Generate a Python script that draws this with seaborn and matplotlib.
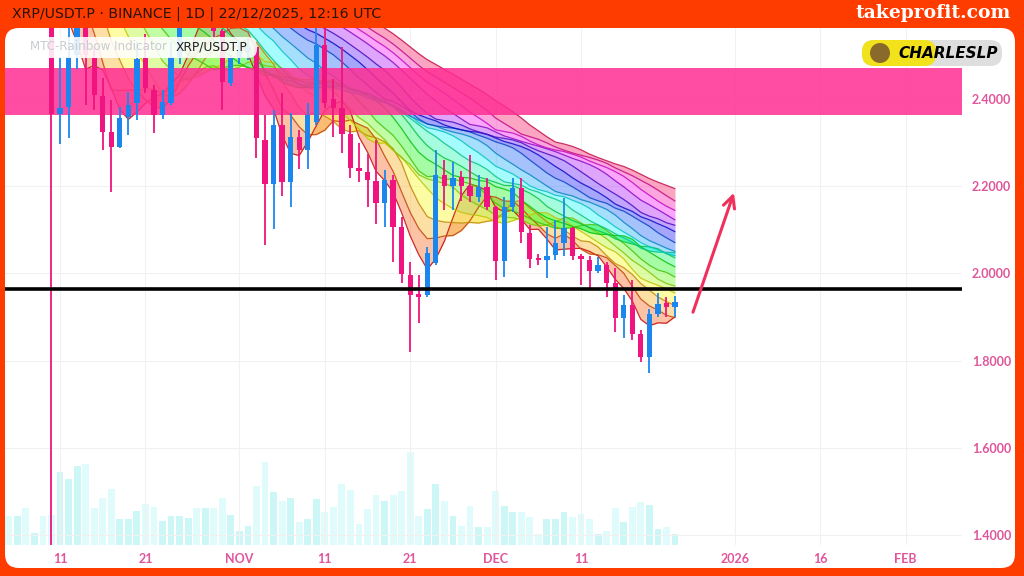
import numpy as np
import pandas as pd
import seaborn as sns
import matplotlib.pyplot as plt
from matplotlib.patches import FancyBboxPatch, Circle

# XRP/USDT.P daily candles, 04/10/2025 .. 22/12/2025
dates = pd.date_range("2025-10-04", "2025-12-22", freq="D")

opens = [2.98, 2.97, 2.96, 3.00, 2.84, 2.86, 2.80, 2.366, 2.382, 2.50,
         2.60, 2.494, 2.408, 2.325, 2.291, 2.359, 2.39, 2.494, 2.42, 2.363,
         2.39, 2.497, 2.60, 2.65, 2.62, 2.64, 2.555, 2.437,
         2.494, 2.51, 2.52, 2.306, 2.205, 2.34, 2.21, 2.313, 2.283, 2.347,
         2.524, 2.40, 2.38, 2.32, 2.242, 2.233, 2.212, 2.161, 2.214, 2.106,
         1.997, 1.953, 1.95, 2.024, 2.226, 2.20, 2.221, 2.20, 2.175, 2.198,
         2.152, 2.028, 2.152, 2.196, 2.093, 2.035, 2.031, 2.042, 2.07, 2.104,
         2.04, 2.031, 2.005, 2.019, 1.978, 1.898, 1.927, 1.861, 1.808, 1.907,
         1.932, 1.923]
highs = [3.00, 3.02, 3.03, 3.02, 2.90, 2.87, 2.84, 2.497, 2.58, 2.66,
         2.62, 2.52, 2.448, 2.398, 2.382, 2.417, 2.53, 2.55, 2.432, 2.42,
         2.53, 2.62, 2.68, 2.70, 2.68, 2.68, 2.56, 2.50,
         2.53, 2.54, 2.53, 2.363, 2.375, 2.414, 2.368, 2.33, 2.39, 2.57,
         2.58, 2.445, 2.52, 2.34, 2.30, 2.275, 2.306, 2.237, 2.225, 2.13,
         2.026, 1.996, 2.06, 2.283, 2.26, 2.255, 2.235, 2.272, 2.225, 2.22,
         2.155, 2.175, 2.218, 2.22, 2.11, 2.045, 2.106, 2.122, 2.173, 2.107,
         2.045, 2.04, 2.038, 2.027, 2.012, 1.95, 1.985, 1.87, 1.918, 1.955,
         1.946, 1.948]
lows = [2.95, 2.93, 2.94, 2.82, 2.80, 2.75, 1.25, 2.297, 2.31, 2.47,
        2.386, 2.375, 2.283, 2.187, 2.288, 2.317, 2.352, 2.414, 2.322, 2.355,
        2.386, 2.48, 2.57, 2.60, 2.58, 2.54, 2.375, 2.43,
        2.48, 2.49, 2.265, 2.065, 2.102, 2.178, 2.152, 2.24, 2.24, 2.34,
        2.38, 2.313, 2.276, 2.22, 2.21, 2.152, 2.113, 2.106, 2.026, 1.978,
        1.82, 1.886, 1.945, 2.02, 2.145, 2.145, 2.165, 2.163, 2.164, 2.145,
        1.985, 1.992, 2.141, 2.07, 2.012, 2.02, 1.99, 2.03, 2.04, 2.031,
        1.973, 1.966, 2.0, 1.946, 1.866, 1.852, 1.847, 1.797, 1.772, 1.90,
        1.90, 1.90]
closes = [2.97, 2.96, 3.00, 2.84, 2.86, 2.80, 2.366, 2.379, 2.497, 2.60,
          2.50, 2.409, 2.325, 2.291, 2.356, 2.386, 2.493, 2.425, 2.363, 2.393,
          2.497, 2.60, 2.65, 2.62, 2.64, 2.555, 2.44, 2.494,
          2.51, 2.52, 2.31, 2.205, 2.34, 2.21, 2.313, 2.283, 2.363, 2.524,
          2.39, 2.38, 2.32, 2.242, 2.235, 2.214, 2.161, 2.214, 2.106, 1.999,
          1.95, 1.946, 2.047, 2.226, 2.20, 2.22, 2.20, 2.178, 2.198, 2.152,
          2.028, 2.152, 2.196, 2.095, 2.033, 2.031, 2.04, 2.07, 2.104, 2.04,
          2.033, 2.005, 2.019, 1.978, 1.898, 1.927, 1.861, 1.808, 1.907, 1.93,
          1.923, 1.935]
volume = [25, 29, 29, 37, 12, 29, 30, 73, 66, 79,
          81, 37, 47, 56, 26, 26, 34, 41, 38, 24,
          29, 29, 27, 37, 37, 37, 47, 30,
          14, 19, 59, 83, 53, 44, 47, 23, 26, 46,
          33, 38, 61, 55, 21, 36, 50, 44, 50, 54,
          93, 29, 36, 61, 44, 29, 19, 39, 18, 18,
          54, 39, 33, 33, 28, 11, 26, 26, 33, 28,
          31, 26, 11, 14, 37, 23, 38, 43, 40, 16,
          18, 11]

# MTC-Rainbow ribbon lengths (fast -> slow moving averages)
ribbon_lengths = [5, 8, 11, 14, 17, 20, 24, 27, 30, 33, 36, 40, 43, 46, 50, 53, 56, 60]
# average close before the visible window (off chart, estimated from the ribbon)
prior_level = 2.88

tick_days = [0, 10, 21, 31, 41, 51, 61, 79, 89, 99]
tick_labels = ["11", "21", "NOV", "11", "21", "DEC", "11", "2026", "16", "FEB"]
price_ticks = [1.4, 1.6, 1.8, 2.0, 2.2, 2.4]
zone_low, zone_high = 2.363, 2.471
support = 1.964
arrow_start = (74.0, 1.905)
arrow_end = (79.0, 2.191)

PINK = "#ef147f"
BLUE = "#1b87ee"
FRAME = "#ff3c00"
AXIS_TXT = "#e0559b"

df = pd.DataFrame({"date": dates, "open": opens, "high": highs, "low": lows,
                   "close": closes, "volume": volume})
df["day"] = (df["date"] - pd.Timestamp("2025-10-11")).dt.days
df["up"] = df["close"] >= df["open"]

pad = max(ribbon_lengths)
hist = pd.concat([pd.Series([prior_level] * pad), df["close"]], ignore_index=True)
names = [f"MA {n}" for n in ribbon_lengths]
ribbon = pd.DataFrame({nm: hist.rolling(n).mean().iloc[pad:].to_numpy()
                       for nm, n in zip(names, ribbon_lengths)})
ribbon["day"] = df["day"]
long = ribbon.melt(id_vars="day", var_name="line", value_name="price")

sns.set_theme(style="white")
plt.rcParams["font.family"] = ["DejaVu Sans"]

fig = plt.figure(figsize=(10.24, 5.76), dpi=100, facecolor=FRAME)

# background: orange frame + rounded white panel + header texts
bg = fig.add_axes([0, 0, 1, 1], zorder=0)
bg.set_xlim(0, 1024)
bg.set_ylim(576, 0)
bg.axis("off")
bg.add_patch(FancyBboxPatch((5, 28), 1010, 540, boxstyle="round,pad=0,rounding_size=14",
                            fc="white", ec="none"))
bg.text(12, 14, "XRP/USDT.P · BINANCE | 1D | 22/12/2025, 12:16 UTC", fontsize=10.2,
        color="#2a1208", va="center", ha="left")
bg.text(1011, 13, "takeprofit.com", fontsize=13.5, color="white", va="center", ha="right",
        family="DejaVu Serif", fontweight="bold")

# main price axes + volume twin
ax = fig.add_axes([5 / 1024, 31 / 576, 957 / 1024, 517 / 576])
axv = ax.twinx()
axv.set_zorder(2)
ax.set_zorder(3)
ax.patch.set_visible(False)
axv.patch.set_visible(False)

vol_cols = np.where(df["up"], "#cdf7f7", "#e0fbfb")
axv.bar(df["day"], df["volume"], width=0.8, color=vol_cols, linewidth=0)
axv.set_ylim(0, 517)
axv.set_yticks([])
for s in axv.spines.values():
    s.set_visible(False)

# rainbow ribbon
fill_pal = sns.hls_palette(len(names), h=0.0, l=0.6, s=0.95)
line_pal = sns.hls_palette(len(names), h=0.0, l=0.4, s=0.9)
for i in range(len(names) - 1):
    ax.fill_between(ribbon["day"], ribbon[names[i]], ribbon[names[i + 1]],
                    color=fill_pal[i + 1], alpha=0.45, lw=0, zorder=1)
sns.lineplot(data=long, x="day", y="price", hue="line", hue_order=names,
             palette=line_pal, legend=False, lw=0.9, alpha=0.85, ax=ax, zorder=2)

# resistance zone
ax.axhspan(zone_low, zone_high, color="#ff2e93", alpha=0.85, lw=0, zorder=3)

# candles
cols = np.where(df["up"], BLUE, PINK)
ax.vlines(df["day"], df["low"], df["high"], colors=cols, lw=1.3, zorder=5)
body = (df["close"] - df["open"]).abs().clip(lower=0.004)
ax.bar(df["day"], body, bottom=df[["open", "close"]].min(axis=1), width=0.62,
       color=cols, lw=0, zorder=6)

# support line and arrow
ax.axhline(support, color="black", lw=2.6, zorder=7)
ax.annotate("", xy=arrow_end, xytext=arrow_start, zorder=8,
            arrowprops=dict(arrowstyle="->,head_length=0.7,head_width=0.35",
                            color="#f0305c", lw=2.2))

ax.set_xlim(-6.44, 105.6)
ax.set_ylim(1.377, 2.563)
ax.set_xlabel("")
ax.set_ylabel("")
ax.set_xticks(tick_days)
ax.set_xticklabels(tick_labels)
ax.set_yticks(price_ticks)
ax.set_yticklabels([f"{p:.4f}" for p in price_ticks])
ax.yaxis.tick_right()
ax.tick_params(axis="y", length=0, pad=7, labelsize=9, labelcolor=AXIS_TXT)
ax.tick_params(axis="x", length=0, pad=6, labelsize=9, labelcolor=AXIS_TXT)
for t in ax.get_xticklabels() + ax.get_yticklabels():
    t.set_family("Lato")
    t.set_fontweight("bold")
ax.grid(True, color="#f1f1f1", lw=0.8)
ax.set_axisbelow(True)
for s in ax.spines.values():
    s.set_visible(False)

# overlay: indicator label and logo badge
fg = fig.add_axes([0, 0, 1, 1], zorder=10)
fg.set_xlim(0, 1024)
fg.set_ylim(576, 0)
fg.axis("off")
fg.patch.set_visible(False)
fg.add_patch(FancyBboxPatch((5, 37), 252, 21, boxstyle="round,pad=0,rounding_size=9",
                            fc="white", ec="none", alpha=0.88))
fg.text(30, 47, "MTC-Rainbow Indicator", fontsize=8.6, color="#c9ccd1", va="center")
fg.text(176, 47, "XRP/USDT.P", fontsize=8.8, color="#1e1e1e", va="center")
fg.add_patch(FancyBboxPatch((862, 40), 140, 26, boxstyle="round,pad=0,rounding_size=12",
                            fc="#dedede", ec="none"))
fg.add_patch(FancyBboxPatch((862, 40), 74, 26, boxstyle="round,pad=0,rounding_size=12",
                            fc="#f2e21b", ec="none"))
fg.add_patch(Circle((880, 53), 10, fc="#8a6a2a", ec="none"))
fg.text(898, 54, "CHARLESLP", fontsize=11, color="black", va="center", ha="left",
        fontweight="heavy", style="italic")

fig.savefig("out.png", dpi=100, facecolor=FRAME)
